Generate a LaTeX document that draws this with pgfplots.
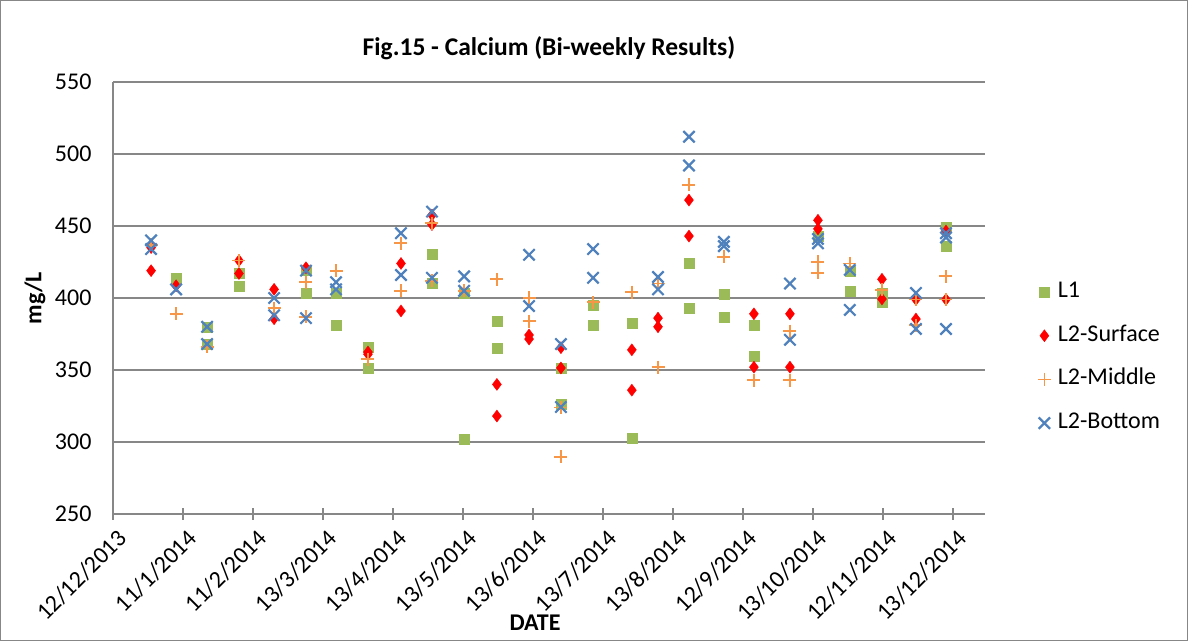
\documentclass[border=0pt]{standalone}
\usepackage{pgfplots}
\pgfplotsset{compat=1.18}
\usepackage{fontspec}
\setmainfont{Carlito}
\definecolor{cL1}{HTML}{9BBB59}
\definecolor{cS}{HTML}{FF0000}
\definecolor{cM}{HTML}{F79646}
\definecolor{cB}{HTML}{4F81BD}
\definecolor{gridc}{HTML}{878787}
\newcommand{\fs}{\fontsize{24bp}{28bp}\selectfont}
\begin{document}
\begin{tikzpicture}
\useasboundingbox (0,0) rectangle (1188bp,641bp);
\draw[gridc, line width=1bp] (0.5bp,0.5bp) rectangle (1187.5bp,640.5bp);
\begin{axis}[
  name=ax,
  at={(113bp,127bp)}, anchor=south west,
  scale only axis,
  width=872bp, height=432bp,
  xmin=0, xmax=380, ymin=250, ymax=550,
  axis x line=bottom, axis y line=left,
  axis line style={-, draw=gridc, line width=1.5bp},
  ytick={250,300,...,550},
  ymajorgrids, grid style={gridc, line width=1.5bp},
  xtick={0,30.5,61,91.5,122,152.5,183,213.5,244,274.5,305,335.5,366},
  xticklabels={12/12/2013,11/1/2014,11/2/2014,13/3/2014,13/4/2014,13/5/2014,13/6/2014,13/7/2014,13/8/2014,12/9/2014,13/10/2014,12/11/2014,13/12/2014},
  tick align=center,
  major tick length=12bp,
  x tick style={draw=gridc, line width=1.5bp},
  y tick style={draw=none},
  xticklabel style={rotate=45, anchor=east, font=\fs, yshift=-17bp, xshift=0bp},
  yticklabel style={font=\fs, xshift=-12bp},
  /pgf/number format/assume math mode=true,
  title={Fig.15 - Calcium (Bi-weekly Results)},
  title style={at={(axis description cs:0.5,1)}, anchor=center, yshift=28bp, font=\fontsize{25.5bp}{30bp}\selectfont\bfseries},
  xlabel={DATE},
  xlabel style={at={(axis description cs:0.484,-0.252)}, anchor=center, font=\fs\bfseries},
  ylabel={mg/L},
  ylabel style={at={(axis description cs:-0.0894,0.5)}, anchor=center, font=\fs\bfseries},
  legend style={at={(axis description cs:1.057,0.550)}, anchor=north west, draw=none, fill=none, font=\fs, row sep=16.7bp,
    nodes={text height=17bp, text depth=6bp}},
  legend cell align=left,
  clip=false,
]
\addplot[only marks, mark=square*, mark size=5bp, color=cL1] coordinates {
(27.5,414) (41.0,380) (41.0,368) (54.9,417) (54.9,408) (84.1,419) (84.1,403.5)
(97.2,403) (97.2,381) (111.1,365.5) (111.1,351.4) (139.0,430.5) (139.0,410.4)
(153.0,403.5) (153.0,302) (167.3,384) (167.3,365) (195.2,351.4) (195.2,326.4)
(209.2,395) (209.2,381) (226.1,382.6) (226.1,302.8) (251.0,424.3) (251.0,393)
(266.2,402.8) (266.2,386.8) (279.3,381) (279.3,359.7) (307.2,443)
(321.1,418.8) (321.1,405) (335.1,403.5) (335.1,397.2) (363.0,449.3) (363.0,436)
};
\addlegendentry{\hspace{5bp}L1}
\addplot[only marks, mark=diamond*, mark size=6bp, color=cS] coordinates {
(16.6,435) (16.6,419) (27.5,408.5) (54.9,426) (54.9,417) (70.2,406) (70.2,385.6)
(84.1,421) (111.1,362.5) (111.1,361) (125.5,424) (125.5,391) (139.0,457.6) (139.0,451)
(167.3,340) (167.3,318) (181.3,374.3) (181.3,371.5) (195.2,365.5) (195.2,351.4)
(226.1,364) (226.1,336) (237.5,386) (237.5,380) (251.0,468) (251.0,443)
(279.3,389) (279.3,352) (295.0,389) (295.0,352) (307.2,454) (307.2,448)
(335.1,413) (335.1,399.3) (349.9,399) (349.9,385.4) (363.0,446.5) (363.0,399)
};
\addlegendentry{\hspace{5bp}L2-Surface}
\addplot[only marks, mark=+, mark size=6.5bp, line width=1.8bp, color=cM] coordinates {
(16.6,437) (27.5,389) (41.0,366) (54.9,426) (70.2,393) (84.1,411) (84.1,387)
(97.2,419) (111.1,357.6) (125.5,438) (125.5,405) (139.0,452) (139.0,412)
(153.0,405) (167.3,413) (181.3,400) (181.3,384) (195.2,324) (195.2,289.6)
(209.2,397) (226.1,404) (237.5,410) (237.5,352) (251.0,478.5) (266.2,428.5)
(279.3,343) (295.0,377) (295.0,343) (307.2,425) (307.2,417.4) (321.1,424)
(335.1,405.6) (349.9,399) (349.9,381) (363.0,415) (363.0,399)
};
\addlegendentry{\hspace{5bp}L2-Middle}
\addplot[only marks, mark=x, mark size=8bp, line width=2.2bp, color=cB] coordinates {
(16.6,440) (16.6,434) (27.5,406) (41.0,380) (41.0,368) (70.2,400) (70.2,388)
(84.1,419) (84.1,386) (97.2,411) (97.2,406) (125.5,445) (125.5,416)
(139.0,460) (139.0,414) (153.0,415) (153.0,405) (181.3,430) (181.3,394.4)
(195.2,368) (195.2,324.3) (209.2,434) (209.2,414) (237.5,414.6) (237.5,406)
(251.0,512) (251.0,492) (266.2,439) (266.2,436) (295.0,410) (295.0,371)
(307.2,441) (307.2,438) (321.1,419.5) (321.1,391.7) (349.9,403.5) (349.9,378.5)
(363.0,445) (363.0,442) (363.0,378.5)
};
\addlegendentry{\hspace{5bp}L2-Bottom}
\end{axis}
\end{tikzpicture}
\end{document}
